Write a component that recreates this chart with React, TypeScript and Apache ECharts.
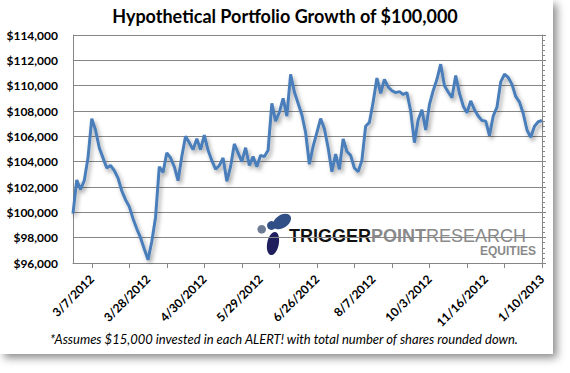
import React, { useEffect, useRef } from "react";
import * as echarts from "echarts";

const titleText = "Hypothetical Portfolio Growth of $100,000";
const footnote = "*Assumes $15,000 invested in each ALERT! with total number of shares rounded down.";

const tickLabels = [
  "3/7/2012", "3/28/2012", "4/30/2012", "5/29/2012", "6/26/2012",
  "8/7/2012", "10/3/2012", "11/16/2012", "1/10/2013",
];

const portfolio = [
  99900, 102550, 101800, 102500, 104300, 107400, 106500, 105100, 104300, 103500,
  103700, 103300, 102700, 101700, 101000, 100450, 99500, 98700, 98000, 97100,
  96250, 97700, 99600, 103600, 103150, 104700, 104300, 103600, 102500, 104400,
  106000, 105500, 104950, 105800, 104950, 106100, 104900, 104100, 103400, 103700,
  104300, 102450, 103600, 105400, 104700, 104000, 105100, 103700, 104400, 103600,
  104500, 104400, 104900, 108600, 107200, 107900, 109000, 107600, 110900, 109500,
  108600, 107700, 106300, 103800, 105200, 106300, 107400, 106600, 105100, 103200,
  104600, 103400, 105800, 104800, 104500, 103500, 103200, 104100, 106800, 107100,
  108700, 110600, 109400, 110500, 109900, 109600, 109450, 109530, 109300, 109450,
  108000, 105500, 107300, 108100, 106500, 108500, 109600, 110500, 111700, 110000,
  109500, 109050, 110800, 109400, 108400, 107850, 108800, 108100, 107600, 107250,
  107200, 106050, 107600, 108300, 110300, 110900, 110650, 110100, 109150, 108700,
  107800, 106500, 105920, 106800, 107150, 107250,
];

const labelStart = 5;
const labelStep = 15;
const tickStep = 10;

const categories = portfolio.map((_, i) =>
  i >= labelStart && (i - labelStart) % labelStep === 0
    ? tickLabels[(i - labelStart) / labelStep]
    : ""
);

const fmtMoney = (v: number) => "$" + String(v).replace(/\B(?=(\d{3})+(?!\d))/g, ",");

export default function App() {
  const ref = useRef<HTMLDivElement>(null);
  useEffect(() => {
    document.body.style.margin = "0";
    if (!ref.current) return;
    const chart = echarts.init(ref.current, undefined, { renderer: "svg" });
    const gray = "#868686";
    chart.setOption({
      animation: false,
      backgroundColor: "#ffffff",
      title: {
        text: titleText,
        left: "center",
        top: 7,
        padding: 0,
        textStyle: { fontFamily: "Lato", fontWeight: "bold", fontSize: 18, color: "#000" },
      },
      grid: { left: 73, top: 35, right: 28, bottom: 110, containLabel: false },
      xAxis: {
        type: "category",
        data: categories,
        boundaryGap: false,
        axisLine: { show: true, lineStyle: { color: gray, width: 1 } },
        axisTick: {
          show: true,
          length: 5,
          lineStyle: { color: gray },
          interval: (i: number) => i >= labelStart && (i - labelStart) % tickStep === 0,
        },
        axisLabel: {
          interval: (i: number, v: string) => v !== "",
          rotate: 45,
          margin: 14,
          fontFamily: "Lato",
          fontWeight: "bold",
          fontSize: 12,
          color: "#000",
        },
        splitLine: { show: false },
      },
      yAxis: [
        {
          type: "value",
          min: 96000,
          max: 114000,
          interval: 2000,
          axisLine: { show: true, lineStyle: { color: gray } },
          axisTick: { show: false },
          axisLabel: {
            formatter: (v: number) => fmtMoney(v),
            margin: 15,
            fontFamily: "Lato",
            fontWeight: "bold",
            fontSize: 12,
            color: "#000",
          },
          splitLine: { show: true, lineStyle: { color: gray, width: 1 } },
        },
        {
          type: "value",
          position: "right",
          min: 96000,
          max: 114000,
          interval: 2000,
          axisLine: { show: true, lineStyle: { color: gray } },
          axisTick: { show: true, length: 4, lineStyle: { color: gray } },
          minorTick: { show: true, splitNumber: 5, length: 3, lineStyle: { color: gray } },
          axisLabel: { show: false },
          splitLine: { show: false },
        },
      ],
      graphic: [
        {
          type: "rect",
          z: -10,
          shape: { x: 0, y: 0, width: 553, height: 354 },
          style: {
            fill: "#ffffff",
            shadowBlur: 8,
            shadowOffsetX: 4,
            shadowOffsetY: 4,
            shadowColor: "rgba(0,0,0,0.45)",
          },
        },
        {
          type: "circle",
          shape: { cx: 261.7, cy: 229.3, r: 4.3 },
          style: { fill: "#6d7b95" },
        },
        {
          type: "circle",
          shape: { cx: 271.5, cy: 225.5, r: 4.4 },
          style: { fill: "#2f4f86" },
        },
        {
          type: "ellipse",
          x: 282,
          y: 221.5,
          rotation: 0.6,
          shape: { cx: 0, cy: 0, rx: 10, ry: 6.5 },
          style: { fill: "#2f4f86" },
        },
        {
          type: "ellipse",
          x: 273,
          y: 243.5,
          rotation: -0.2,
          shape: { cx: 0, cy: 0, rx: 5.8, ry: 11.8 },
          style: { fill: "#1e1f5c" },
        },
        {
          type: "text",
          x: 289,
          y: 235.5,
          style: {
            text: "{a|TRIGGER}{b|POINT}{c|RESEARCH}",
            verticalAlign: "middle",
            rich: {
              a: { fontFamily: "Liberation Sans", fontWeight: "bold", fontSize: 18, fill: "#111111" },
              b: { fontFamily: "Liberation Sans", fontWeight: "bold", fontSize: 18, fill: "#8a8a8a" },
              c: { fontFamily: "Liberation Sans", fontWeight: "normal", fontSize: 18, fill: "#8a8a8a" },
            },
          },
        },
        {
          type: "text",
          x: 536,
          y: 251,
          style: {
            text: "EQUITIES",
            align: "right",
            verticalAlign: "middle",
            fontFamily: "Liberation Sans",
            fontWeight: "bold",
            fontSize: 12,
            fill: "#8a8a8a",
          },
        },
        {
          type: "text",
          x: 284,
          y: 339,
          style: {
            text: footnote,
            align: "center",
            verticalAlign: "middle",
            fontFamily: "Lato",
            fontStyle: "italic",
            fontSize: 13,
            fill: "#000000",
          },
        },
      ],
      series: [
        {
          type: "line",
          data: portfolio,
          xAxisIndex: 0,
          yAxisIndex: 0,
          symbol: "none",
          lineStyle: {
            color: "#4a7ebb",
            width: 3,
            shadowColor: "rgba(0,0,0,0.35)",
            shadowBlur: 4,
            shadowOffsetX: 2,
            shadowOffsetY: 3,
          },
        },
      ],
    });
    return () => chart.dispose();
  }, []);
  return <div ref={ref} style={{ width: 570, height: 373 }} />;
}
